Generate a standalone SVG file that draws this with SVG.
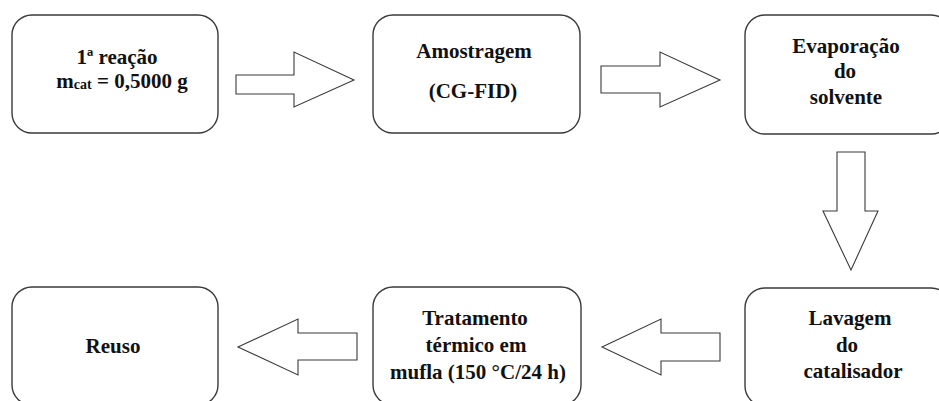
<svg xmlns="http://www.w3.org/2000/svg" width="939" height="401" viewBox="0 0 939 401">
<style>
.box{fill:#fff;stroke:#3a3a3a;stroke-width:1.4}
.arr{fill:#fff;stroke:#3a3a3a;stroke-width:1.1;stroke-linejoin:miter}
.t{font-family:"Liberation Serif","Times New Roman",serif;font-weight:bold;font-size:21px;fill:#111;text-anchor:middle}
</style>
<rect width="939" height="401" fill="#fff"/>
<g id="connectors">
<polygon class="arr" points="236,75 294,75 294,52 354,80 294,107 294,94 236,94"/>
<polygon class="arr" points="601,66 660,66 660,52 720,80 660,107 660,93 601,93"/>
<polygon class="arr" points="837,152 865,152 865,211 878,211 851,270 823,211 837,211"/>
<polygon class="arr" points="720,333 661,333 661,319 602,347 661,375 661,361 720,361"/>
<polygon class="arr" points="357,333 298,333 298,319 238,347 298,375 298,360 357,360"/>
</g>
<g id="n1">
<rect class="box" x="12" y="15" width="206" height="118" rx="20"/>
<text class="t" x="117" y="64">1ª reação</text>
<text class="t" x="122" y="88">m<tspan font-size="14" dy="1">cat</tspan><tspan dy="-1"> = 0,5000 g</tspan></text>
</g>
<g id="n2">
<rect class="box" x="373" y="15" width="207" height="118" rx="20"/>
<text class="t" x="474" y="58">Amostragem</text>
<text class="t" x="473" y="98">(CG-FID)</text>
</g>
<g id="n3">
<rect class="box" x="745" y="15" width="206" height="119" rx="20"/>
<text class="t" x="846" y="53">Evaporação</text>
<text class="t" x="845" y="78">do</text>
<text class="t" x="846" y="104">solvente</text>
</g>
<g id="n4">
<rect class="box" x="745" y="288" width="206" height="118" rx="20"/>
<text class="t" x="850" y="325">Lavagem</text>
<text class="t" x="847" y="352">do</text>
<text class="t" x="853" y="378">catalisador</text>
</g>
<g id="n5">
<rect class="box" x="373" y="287" width="208" height="118" rx="20"/>
<text class="t" x="475" y="325">Tratamento</text>
<text class="t" x="476" y="352">térmico em</text>
<text class="t" x="478" y="379">mufla (150 °C/24 h)</text>
</g>
<g id="n6">
<rect class="box" x="12" y="287" width="206" height="118" rx="20"/>
<text class="t" x="113" y="353">Reuso</text>
</g>
</svg>
